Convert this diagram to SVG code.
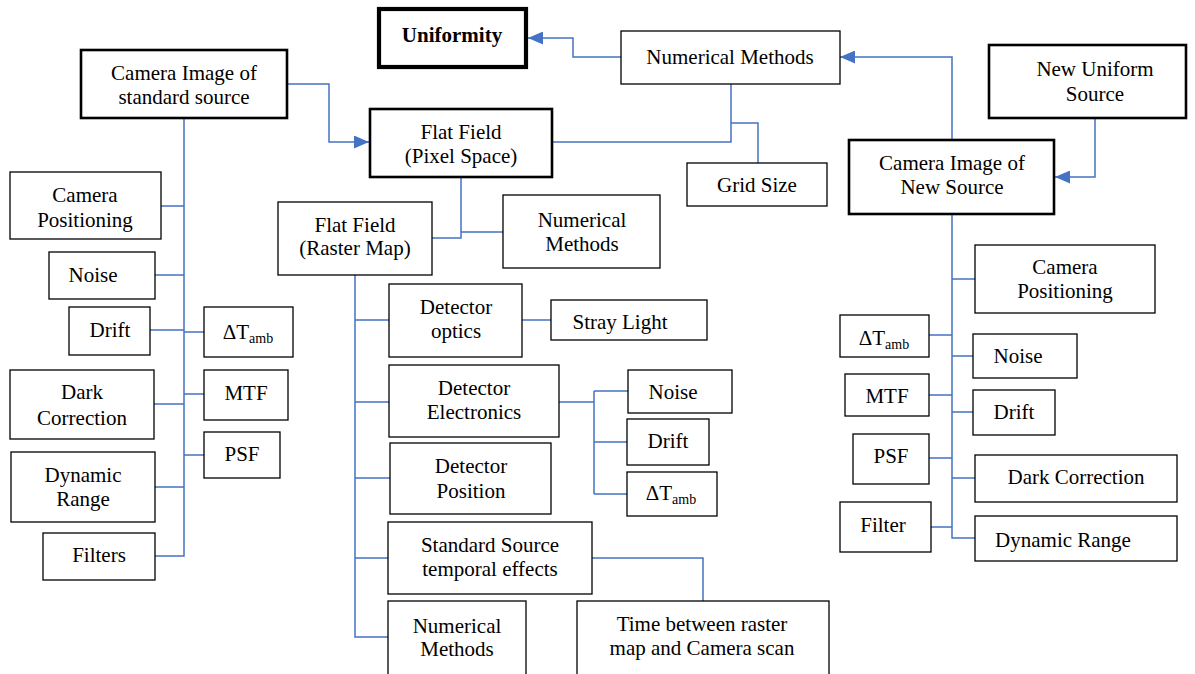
<svg xmlns="http://www.w3.org/2000/svg" width="1195" height="674" viewBox="0 0 1195 674">
<style>
.box{fill:#fff;stroke:#000;stroke-width:1.3}
.thick{stroke-width:2.6}
.heavy{stroke-width:4.2}
.t{font-family:"Liberation Serif","Times New Roman",serif;font-size:21px;text-anchor:middle;fill:#000}
.b{font-weight:bold}
.sub{font-size:14px}
.c{fill:none;stroke:#4472C4;stroke-width:1.5}
</style>
<defs>
<marker id="arr" markerUnits="userSpaceOnUse" markerWidth="15" markerHeight="13" refX="15" refY="6.5" orient="auto">
<path d="M0,0 L15,6.5 L0,13 z" fill="#4472C4"/>
</marker>
</defs>
<rect width="1195" height="674" fill="#fff"/>
<g id="connectors">
<path class="c" d="M621,57 H573 V38 H528" marker-end="url(#arr)"/>
<path class="c" d="M288,84 H329 V142 H369" marker-end="url(#arr)"/>
<path class="c" d="M731,84 V142 H553"/>
<path class="c" d="M731,123 H758 V163"/>
<path class="c" d="M952,139 V57 H840" marker-end="url(#arr)"/>
<path class="c" d="M1095,119 V177 H1055" marker-end="url(#arr)"/>
<path class="c" d="M184,119 V556 H155"/>
<path class="c" d="M161,206 H184 M155,275 H184 M150,330 H184 M184,332 H204 M154,404 H184 M184,394 H204 M184,455 H204 M155,487 H184"/>
<path class="c" d="M461,178 V238 H432 M461,232 H503"/>
<path class="c" d="M355,275 V637 H388 M355,320 H389 M355,402 H389 M355,478 H390 M355,558 H388"/>
<path class="c" d="M522,320 H551"/>
<path class="c" d="M559,402 H594 M594,391 V494 M594,391 H628 M594,442 H627 M594,494 H627"/>
<path class="c" d="M592,558 H703 V601"/>
<path class="c" d="M952,215 V538 H975 M952,279 H975 M929,335 H952 M952,356 H973 M929,395 H952 M952,412 H973 M929,458 H952 M952,478 H975 M931,527 H952"/>
</g>
<g id="uniformity"><rect class="box heavy" x="379" y="9" width="147" height="58"/><text class="t b" x="452" y="42">Uniformity</text></g>
<g id="num-methods-top"><rect class="box" x="621" y="31" width="219" height="53"/><text class="t" x="730" y="64">Numerical Methods</text></g>
<g id="camera-std"><rect class="box thick" x="81" y="50" width="206" height="68"/><text class="t" x="184" y="80">Camera Image of</text><text class="t" x="184" y="104">standard source</text></g>
<g id="flat-pixel"><rect class="box thick" x="370" y="109" width="182" height="68"/><text class="t" x="461" y="139">Flat Field</text><text class="t" x="461" y="163">(Pixel Space)</text></g>
<g id="grid-size"><rect class="box" x="687" y="163" width="140" height="43"/><text class="t" x="757" y="192">Grid Size</text></g>
<g id="new-source"><rect class="box thick" x="989" y="45" width="197" height="73"/><text class="t" x="1095" y="76">New Uniform</text><text class="t" x="1095" y="101">Source</text></g>
<g id="camera-new"><rect class="box thick" x="849" y="140" width="205" height="74"/><text class="t" x="952" y="170">Camera Image of</text><text class="t" x="952" y="194">New Source</text></g>
<g id="l-camera-pos"><rect class="box" x="10" y="172" width="151" height="67"/><text class="t" x="85" y="202">Camera</text><text class="t" x="85" y="227">Positioning</text></g>
<g id="l-noise"><rect class="box" x="49" y="252" width="106" height="47"/><text class="t" x="93" y="282">Noise</text></g>
<g id="l-drift"><rect class="box" x="69" y="307" width="81" height="48"/><text class="t" x="110" y="337">Drift</text></g>
<g id="l-dtamb"><rect class="box" x="204" y="307" width="89" height="50"/><text class="t" x="248" y="339">ΔT<tspan class="sub" dy="4">amb</tspan></text></g>
<g id="l-dark"><rect class="box" x="10" y="370" width="144" height="69"/><text class="t" x="82" y="399">Dark</text><text class="t" x="82" y="425">Correction</text></g>
<g id="l-mtf"><rect class="box" x="204" y="370" width="84" height="50"/><text class="t" x="246" y="400">MTF</text></g>
<g id="l-psf"><rect class="box" x="204" y="432" width="76" height="46"/><text class="t" x="242" y="461">PSF</text></g>
<g id="l-dynamic"><rect class="box" x="11" y="452" width="144" height="70"/><text class="t" x="83" y="482">Dynamic</text><text class="t" x="83" y="506">Range</text></g>
<g id="l-filters"><rect class="box" x="43" y="533" width="112" height="47"/><text class="t" x="99" y="562">Filters</text></g>
<g id="flat-raster"><rect class="box" x="278" y="202" width="154" height="73"/><text class="t" x="355" y="232">Flat Field</text><text class="t" x="355" y="255">(Raster Map)</text></g>
<g id="num-methods-mid"><rect class="box" x="503" y="195" width="157" height="73"/><text class="t" x="582" y="227">Numerical</text><text class="t" x="582" y="251">Methods</text></g>
<g id="det-optics"><rect class="box" x="389" y="284" width="133" height="73"/><text class="t" x="456" y="314">Detector</text><text class="t" x="456" y="338">optics</text></g>
<g id="stray-light"><rect class="box" x="551" y="300" width="156" height="40"/><text class="t" x="620" y="329">Stray Light</text></g>
<g id="det-electronics"><rect class="box" x="389" y="365" width="170" height="72"/><text class="t" x="474" y="395">Detector</text><text class="t" x="474" y="419">Electronics</text></g>
<g id="m-noise"><rect class="box" x="628" y="370" width="104" height="43"/><text class="t" x="673" y="399">Noise</text></g>
<g id="m-drift"><rect class="box" x="627" y="419" width="82" height="46"/><text class="t" x="668" y="448">Drift</text></g>
<g id="m-dtamb"><rect class="box" x="627" y="472" width="90" height="44"/><text class="t" x="671" y="500">ΔT<tspan class="sub" dy="4">amb</tspan></text></g>
<g id="det-position"><rect class="box" x="390" y="443" width="161" height="71"/><text class="t" x="471" y="473">Detector</text><text class="t" x="471" y="498">Position</text></g>
<g id="std-temporal"><rect class="box" x="388" y="522" width="204" height="72"/><text class="t" x="490" y="552">Standard Source</text><text class="t" x="490" y="576">temporal effects</text></g>
<g id="num-methods-bottom"><rect class="box" x="388" y="601" width="138" height="80"/><text class="t" x="457" y="633">Numerical</text><text class="t" x="457" y="656">Methods</text></g>
<g id="time-between"><rect class="box" x="577" y="601" width="252" height="80"/><text class="t" x="702" y="631">Time between raster</text><text class="t" x="702" y="655">map and Camera scan</text></g>
<g id="r-camera-pos"><rect class="box" x="975" y="245" width="180" height="68"/><text class="t" x="1065" y="274">Camera</text><text class="t" x="1065" y="298">Positioning</text></g>
<g id="r-dtamb"><rect class="box" x="840" y="315" width="89" height="42"/><text class="t" x="884" y="345">ΔT<tspan class="sub" dy="4">amb</tspan></text></g>
<g id="r-noise"><rect class="box" x="973" y="334" width="104" height="44"/><text class="t" x="1018" y="363">Noise</text></g>
<g id="r-mtf"><rect class="box" x="845" y="374" width="84" height="42"/><text class="t" x="887" y="403">MTF</text></g>
<g id="r-drift"><rect class="box" x="973" y="390" width="82" height="45"/><text class="t" x="1014" y="419">Drift</text></g>
<g id="r-psf"><rect class="box" x="853" y="434" width="76" height="50"/><text class="t" x="891" y="463">PSF</text></g>
<g id="r-dark"><rect class="box" x="975" y="455" width="202" height="47"/><text class="t" x="1076" y="484">Dark Correction</text></g>
<g id="r-filter"><rect class="box" x="840" y="502" width="91" height="50"/><text class="t" x="883" y="532">Filter</text></g>
<g id="r-dynamic"><rect class="box" x="975" y="516" width="202" height="45"/><text class="t" x="1063" y="547">Dynamic Range</text></g>
</svg>
